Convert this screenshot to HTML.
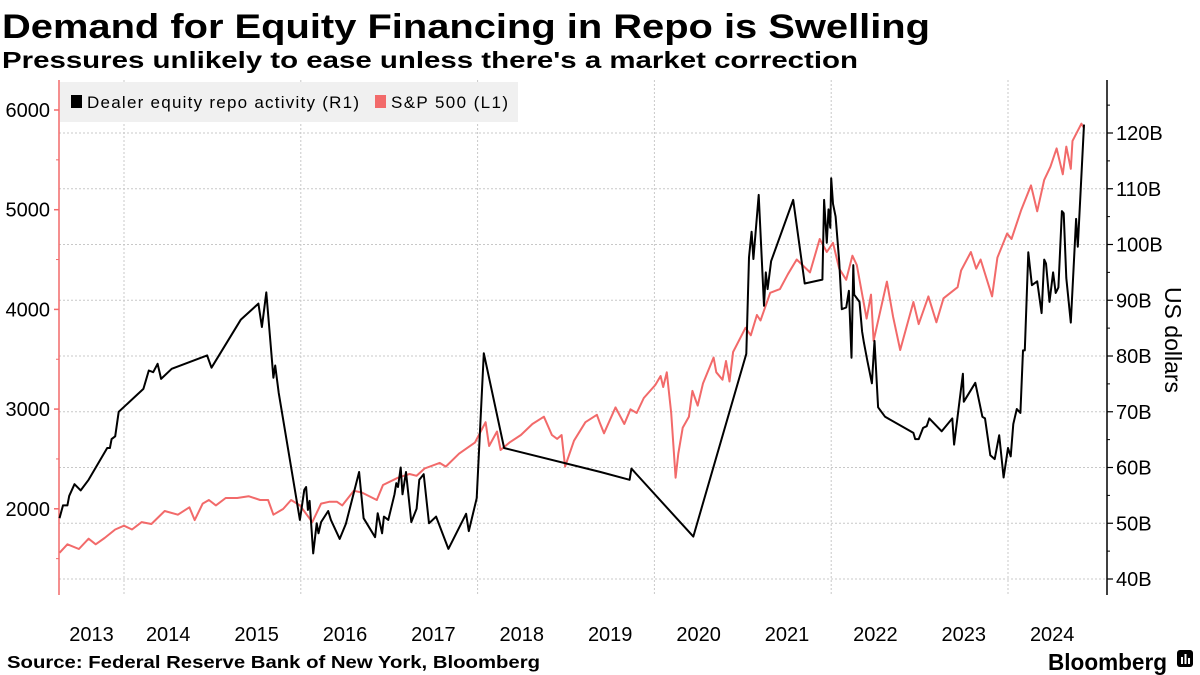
<!DOCTYPE html>
<html><head><meta charset="utf-8"><style>
html,body{margin:0;padding:0;background:#fff;}
svg{display:block;font-family:"Liberation Sans",sans-serif;}
</style></head><body>
<svg id="chart" width="1200" height="675" viewBox="0 0 1200 675">
<text x="2" y="38" font-size="34" font-weight="bold" textLength="928" lengthAdjust="spacingAndGlyphs">Demand for Equity Financing in Repo is Swelling</text>
<text x="2" y="68" font-size="23" font-weight="bold" textLength="856" lengthAdjust="spacingAndGlyphs">Pressures unlikely to ease unless there's a market correction</text>
<g id="grid"></g>
<g id="axes"></g>
<g id="series"></g>
<g>
<rect x="60" y="82" width="458" height="40" fill="#f0f0f0"/>
<rect x="71" y="95" width="11" height="13" fill="#000"/>
<text x="87" y="108" font-size="17" textLength="272" lengthAdjust="spacing">Dealer equity repo activity  (R1)</text>
<rect x="375" y="95" width="11" height="13" fill="#f26a6a"/>
<text x="391" y="108" font-size="17" textLength="117" lengthAdjust="spacing">S&amp;P 500  (L1)</text>
</g>
<text x="1165" y="340" font-size="23" text-anchor="middle" transform="rotate(90 1165 340)">US dollars</text>
<text x="7" y="668" font-size="17.5" font-weight="bold" textLength="533" lengthAdjust="spacingAndGlyphs">Source: Federal Reserve Bank of New York, Bloomberg</text>
<text x="1048" y="670" font-size="23" font-weight="bold" textLength="119" lengthAdjust="spacingAndGlyphs">Bloomberg</text>
<g><rect x="1177" y="650" width="16" height="17" rx="3" fill="#000"/><rect x="1181" y="657" width="2" height="7" fill="#fff"/><rect x="1184.5" y="654" width="2" height="10" fill="#fff"/><rect x="1188" y="658" width="2" height="6" fill="#fff"/></g>
</svg>
<script>
const years=[2013,2014,2015,2016,2017,2018,2019,2020,2021,2022,2023,2024];
const leftTicks=[2000,3000,4000,5000,6000];
const leftMinor=[1500,2500,3500,4500,5500];
const rightTicks=[40,50,60,70,80,90,100,110,120];
const rightMinor=[45,55,65,75,85,95,105,115,125];
const gridYears=[2014,2016,2018,2020,2022,2024];
const repoDates=[2013.27,2013.31,2013.36,2013.38,2013.44,2013.51,2013.6,2013.81,2013.84,2013.86,2013.9,2013.94,2014.22,2014.28,2014.33,2014.38,2014.42,2014.54,2014.94,2014.99,2015.32,2015.52,2015.56,2015.61,2015.69,2015.71,2015.75,2015.99,2016.04,2016.06,2016.08,2016.1,2016.14,2016.18,2016.2,2016.23,2016.31,2016.34,2016.44,2016.51,2016.66,2016.71,2016.84,2016.87,2016.92,2016.94,2016.99,2017.06,2017.08,2017.1,2017.13,2017.15,2017.19,2017.25,2017.31,2017.34,2017.39,2017.45,2017.53,2017.67,2017.87,2017.9,2017.99,2018.07,2018.3,2019.39,2019.72,2019.74,2020.44,2021.04,2021.07,2021.1,2021.12,2021.18,2021.24,2021.26,2021.28,2021.32,2021.57,2021.7,2021.9,2021.92,2021.95,2021.97,2021.99,2022.0,2022.02,2022.05,2022.09,2022.12,2022.17,2022.2,2022.23,2022.25,2022.26,2022.32,2022.35,2022.37,2022.41,2022.46,2022.49,2022.53,2022.61,2022.93,2022.95,2022.99,2023.04,2023.08,2023.11,2023.25,2023.37,2023.39,2023.49,2023.5,2023.63,2023.71,2023.74,2023.8,2023.85,2023.9,2023.95,2024.0,2024.03,2024.06,2024.1,2024.14,2024.17,2024.19,2024.23,2024.27,2024.33,2024.38,2024.41,2024.43,2024.47,2024.51,2024.54,2024.57,2024.61,2024.63,2024.66,2024.71,2024.77,2024.79,2024.86];
const repoValues=[50.9,53.2,53.2,54.9,57.0,55.9,57.8,63.5,63.5,65.1,65.6,70.0,74.1,77.4,77.1,78.6,75.9,77.7,80.1,77.9,86.5,89.4,85.2,91.4,76.1,78.3,73.4,50.6,56.0,56.5,52.4,54.0,44.6,50.0,48.2,50.2,52.2,50.6,47.2,49.9,59.2,50.9,47.5,51.8,48.2,51.2,50.6,55.2,57.2,56.5,60.0,55.2,59.2,50.2,52.6,57.8,58.8,50.0,51.2,45.4,51.7,48.6,54.5,80.5,63.5,59.2,57.8,59.8,47.6,80.4,97.7,102.3,97.4,108.9,89.0,95.0,92.0,97.0,108.0,93.0,93.7,108.0,100.3,106.3,103.0,111.9,107.3,105.0,97.0,88.4,88.7,91.7,79.7,96.3,91.0,89.7,84.4,82.4,79.1,75.1,82.7,70.8,69.1,66.2,65.1,65.1,67.1,67.4,68.8,66.5,68.8,64.1,76.8,71.8,75.2,69.1,68.8,62.2,61.5,65.8,58.2,63.5,62.0,67.8,70.5,69.8,81.0,81.0,98.6,92.7,93.4,87.7,97.3,96.6,89.7,95.0,91.3,92.3,106.0,105.6,94.0,86.0,104.6,99.6,121.5];
const spxDates=[2013.27,2013.36,2013.49,2013.6,2013.68,2013.78,2013.9,2014.0,2014.09,2014.2,2014.31,2014.46,2014.61,2014.74,2014.8,2014.89,2014.96,2015.04,2015.15,2015.28,2015.41,2015.54,2015.63,2015.69,2015.8,2015.89,2015.99,2016.13,2016.23,2016.32,2016.41,2016.47,2016.6,2016.69,2016.86,2016.93,2017.1,2017.23,2017.31,2017.4,2017.57,2017.64,2017.79,2017.97,2018.09,2018.13,2018.22,2018.26,2018.36,2018.49,2018.62,2018.75,2018.84,2018.9,2018.95,2018.99,2019.09,2019.22,2019.35,2019.38,2019.43,2019.56,2019.66,2019.73,2019.8,2019.88,2020.01,2020.07,2020.1,2020.14,2020.19,2020.24,2020.27,2020.32,2020.39,2020.43,2020.49,2020.55,2020.67,2020.7,2020.77,2020.81,2020.85,2020.89,2021.03,2021.09,2021.16,2021.2,2021.31,2021.42,2021.51,2021.61,2021.76,2021.87,2021.95,2022.02,2022.09,2022.17,2022.24,2022.29,2022.4,2022.45,2022.48,2022.63,2022.7,2022.78,2022.93,2022.99,2023.1,2023.19,2023.27,2023.43,2023.47,2023.58,2023.64,2023.69,2023.82,2023.88,2023.99,2024.04,2024.15,2024.26,2024.33,2024.41,2024.48,2024.55,2024.62,2024.66,2024.71,2024.73,2024.83,2024.86];
const spxValues=[1559,1644,1597,1700,1644,1707,1792,1830,1792,1867,1848,1978,1941,2015,1887,2052,2088,2034,2108,2108,2126,2088,2088,1941,1998,2088,2034,1867,2052,2070,2070,2034,2181,2163,2088,2239,2312,2349,2331,2404,2460,2423,2553,2664,2869,2630,2775,2590,2664,2740,2851,2924,2740,2701,2740,2423,2683,2869,2943,2869,2757,3017,2851,2998,2961,3111,3242,3332,3222,3369,2961,2312,2553,2812,2924,3183,3035,3258,3518,3369,3295,3482,3277,3573,3815,3740,3944,3889,4167,4204,4353,4501,4371,4706,4576,4668,4408,4297,4539,4445,3908,4148,3685,4279,3926,3593,4074,3853,4130,3871,4111,4223,4390,4576,4408,4501,4130,4520,4761,4706,5000,5244,4984,5299,5430,5615,5355,5633,5410,5690,5863,5820];

const X0=59,X1=1107,YT=80,YB=595;
function xS(t){return 124+(t-2014)*88.4;}
function yL(v){return 110+(6000-v)*0.0997;}
function yR(v){return 133+(120-v)*5.575;}
const NS="http://www.w3.org/2000/svg";
function mk(tag,attrs,parent){const e=document.createElementNS(NS,tag);for(const k in attrs)e.setAttribute(k,attrs[k]);parent.appendChild(e);return e;}
const grid=document.getElementById('grid'),axes=document.getElementById('axes'),series=document.getElementById('series');
rightTicks.forEach(v=>{const l=mk('line',{x1:X0,x2:X1,y1:yR(v),y2:yR(v),stroke:'#c8c8c8','stroke-dasharray':'2,2'},grid);

});
gridYears.forEach(y=>{const l=mk('line',{x1:xS(y),x2:xS(y),y1:YT,y2:YB,stroke:'#c8c8c8','stroke-dasharray':'2,2'},grid);

});
const la=mk('line',{x1:X0,x2:X0,y1:YT,y2:YB,stroke:'#f26a6a','stroke-width':1.5},axes);


leftTicks.forEach(v=>{mk('line',{x1:X0-5,x2:X0,y1:yL(v),y2:yL(v),stroke:'#f26a6a','stroke-width':1.5},axes);
const t=mk('text',{x:X0-9,y:yL(v)+7,'font-size':20,'text-anchor':'end'},axes);t.textContent=v;

});
leftMinor.forEach(v=>{mk('line',{x1:X0-3,x2:X0,y1:yL(v),y2:yL(v),stroke:'#f26a6a'},axes);});
const ra=mk('line',{x1:X1,x2:X1,y1:YT,y2:YB,stroke:'#000','stroke-width':1.5},axes);


rightTicks.forEach(v=>{mk('line',{x1:X1,x2:X1+6,y1:yR(v),y2:yR(v),stroke:'#000','stroke-width':1.2},axes);
const t=mk('text',{x:X1+9,y:yR(v)+7,'font-size':20},axes);t.textContent=v+'B';

});
rightMinor.forEach(v=>{mk('line',{x1:X1,x2:X1+3,y1:yR(v),y2:yR(v),stroke:'#000'},axes);});
years.forEach(y=>{const a=Math.max(xS(y),X0),b=Math.min(xS(y+1),X1);
const t=mk('text',{x:(a+b)/2,y:641,'font-size':20,'text-anchor':'middle'},axes);t.textContent=y;

});
function pts(d,v,f){return d.map((t,i)=>xS(t).toFixed(1)+','+f(v[i]).toFixed(1)).join(' ');}
const sp=mk('polyline',{points:pts(spxDates,spxValues,yL),fill:'none',stroke:'#f26a6a','stroke-width':2,'stroke-linejoin':'round'},series);


const rp=mk('polyline',{points:pts(repoDates,repoValues,yR),fill:'none',stroke:'#000','stroke-width':2,'stroke-linejoin':'round'},series);


</script>
</body></html>
